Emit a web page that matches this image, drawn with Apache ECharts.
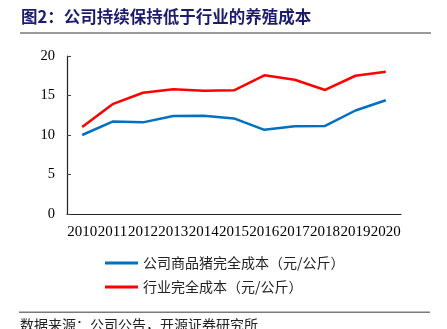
<!DOCTYPE html>
<html>
<head>
<meta charset="utf-8">
<script src="https://cdn.jsdelivr.net/npm/echarts@6/dist/echarts.min.js"></script>
<style>
html,body{margin:0;padding:0;background:#fff;}
#chart{width:447px;height:329px;}
</style>
</head>
<body>
<div id="chart"></div>
<script>
// Full breeding cost per kg, company vs. industry
const years = ['2010','2011','2012','2013','2014','2015','2016','2017','2018','2019','2020'];
const companyCost = [10.0, 11.7, 11.6, 12.4, 12.45, 12.1, 10.65, 11.1, 11.15, 13.1, 14.4];
const industryCost = [11.0, 13.9, 15.35, 15.8, 15.6, 15.65, 17.55, 17.0, 15.7, 17.5, 18.0];
const seriesNames = ['公司商品猪完全成本（元/公斤）', '行业完全成本（元/公斤）'];
const yTicks = { min: 0, max: 20, interval: 5 };

const serif = '"Liberation Serif", "Times New Roman", serif';
const cjk = '"Noto Sans CJK SC", sans-serif';

const chart = echarts.init(document.getElementById('chart'), null, { renderer: 'canvas' });
chart.setOption({
  animation: false,
  backgroundColor: '#fff',
  graphic: [
    { type: 'text', left: 21, top: 8,
      style: { text: '图2：公司持续保持低于行业的养殖成本', fill: '#1c1c6e',
               font: 'bold 16.5px ' + cjk } },
    { type: 'rect', shape: { x: 20, y: 32, width: 411, height: 2 },
      style: { fill: '#9a9a9a' } },
    { type: 'rect', shape: { x: 19, y: 311.5, width: 411, height: 1.5 },
      style: { fill: '#7a7a7a' } },
    { type: 'text', left: 20, top: 318,
      style: { text: '数据来源：公司公告，开源证券研究所', fill: '#222',
               font: '14px ' + cjk } }
  ],
  grid: { left: 67, right: 46, top: 56, bottom: 115, containLabel: false },
  legend: {
    orient: 'vertical', left: 105, top: 256, padding: 0,
    itemWidth: 33, itemHeight: 3, itemGap: 10,
    icon: 'rect',
    textStyle: { fontFamily: cjk, fontSize: 14, color: '#222' },
    data: seriesNames
  },
  xAxis: {
    type: 'category', data: years, boundaryGap: true,
    axisLine: { lineStyle: { color: '#222', width: 1.2 } },
    axisTick: { inside: true, length: 3, lineStyle: { color: '#444' } },
    axisLabel: { interval: 0, color: '#000', fontFamily: serif, fontSize: 15, margin: 11 }
  },
  yAxis: {
    type: 'value', min: yTicks.min, max: yTicks.max, interval: yTicks.interval,
    splitLine: { show: false },
    axisLine: { show: true, lineStyle: { color: '#222', width: 1.2 } },
    axisTick: { show: true, inside: true, length: 4, lineStyle: { color: '#444' } },
    axisLabel: { color: '#000', fontFamily: serif, fontSize: 14.5, margin: 12 }
  },
  series: [
    { name: seriesNames[0], type: 'line', data: companyCost, symbol: 'none',
      lineStyle: { color: '#0070c0', width: 2.5 }, itemStyle: { color: '#0070c0' } },
    { name: seriesNames[1], type: 'line', data: industryCost, symbol: 'none',
      lineStyle: { color: '#ff0000', width: 2.5 }, itemStyle: { color: '#ff0000' } }
  ]
});
</script>
</body>
</html>
